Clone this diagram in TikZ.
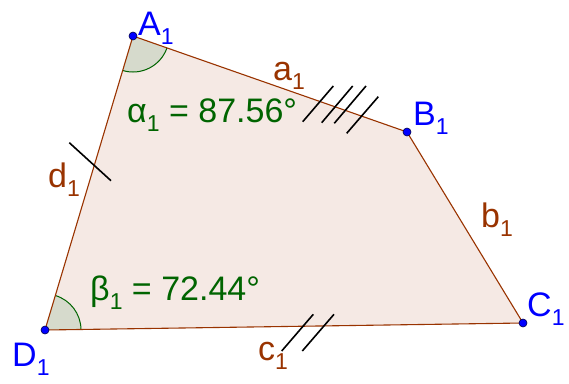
\documentclass[tikz,border=0pt]{standalone}
\usepackage{fontspec}
\setmainfont{Liberation Sans}
\usetikzlibrary{angles}
\definecolor{ptblue}{RGB}{0,0,255}
\definecolor{segbrown}{RGB}{153,51,0}
\definecolor{anggreen}{RGB}{0,100,0}
\definecolor{polyfill}{RGB}{245,233,228}
\definecolor{angfill}{RGB}{214,218,204}
\newcommand{\sub}[1]{\raisebox{-9pt}{\fontsize{23}{23}\selectfont #1}}
\tikzset{
  pt/.style={circle, fill=ptblue, draw=black!70!blue, line width=0.6pt, inner sep=0pt, minimum size=8pt},
  lbl/.style={anchor=base west, inner sep=0pt, font=\fontsize{34}{34}\selectfont},
  ptlbl/.style={lbl, text=ptblue},
  seglbl/.style={lbl, text=segbrown},
  anglbl/.style={lbl, text=anggreen},
  edge/.style={draw=segbrown, line width=1.1pt},
  tick/.style={draw=black, line width=1.6pt},
  angmark/.style={draw=anggreen, fill=angfill, line width=1pt, angle radius=36pt}
}
\begin{document}
\begin{tikzpicture}[x=1pt,y=-1pt]
\useasboundingbox (0,0) rectangle (569,383);
\coordinate (A) at (133,36);
\coordinate (B) at (407,132);
\coordinate (C) at (523,323);
\coordinate (D) at (45,330);
\fill[polyfill] (A) -- (B) -- (C) -- (D) -- cycle;
\pic[angmark] {angle = D--A--B};
\pic[angmark] {angle = C--D--A};
\draw[edge] (A) -- (B) -- (C) -- (D) -- cycle;
% ticks on a1
\draw[tick] (302.7,121.7) -- (333.3,86);
\draw[tick] (321.7,122.7) -- (352.7,86);
\draw[tick] (334.3,123.3) -- (366,86);
\draw[tick] (346.7,133.3) -- (378.3,96.7);
% tick on d1
\draw[tick] (69.3,142.7) -- (111,180.7);
% ticks on c1
\draw[tick] (281.7,351) -- (313.3,314.3);
\draw[tick] (302.3,351) -- (334,314.3);
% points
\node[pt] (pA) at (A) {};
\node[pt] (pB) at (B) {};
\node[pt] (pC) at (C) {};
\node[pt] (pD) at (D) {};
% point labels
\node[ptlbl] (lA) at (138,35) {A\sub{1}};
\node[ptlbl] (lB) at (413,125) {B\sub{1}};
\node[ptlbl] (lC) at (527,316) {C\sub{1}};
\node[ptlbl] (lD) at (12,366) {D\sub{1}};
% segment labels
\node[seglbl] (la) at (273,80) {a\sub{1}};
\node[seglbl] (lb) at (481,227) {b\sub{1}};
\node[seglbl] (lc) at (258,360) {c\sub{1}};
\node[seglbl] (ld) at (48,187) {d\sub{1}};
% angle labels
\node[anglbl] (lal) at (127,122) {α\sub{1} = 87.56°};
\node[anglbl] (lbe) at (90,300) {β\sub{1} = 72.44°};
\end{tikzpicture}
\end{document}
